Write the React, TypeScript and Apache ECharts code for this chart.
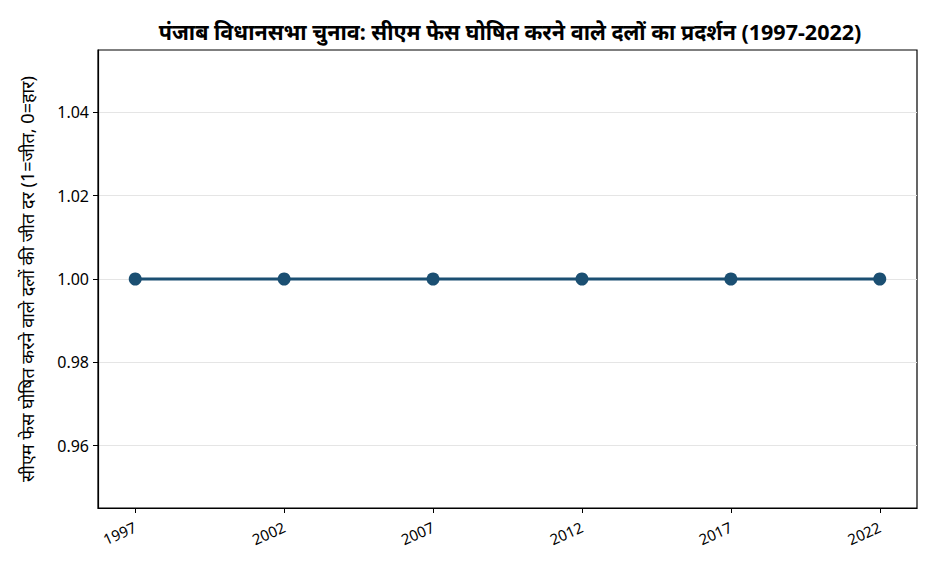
import { useEffect, useRef } from "react";
import * as echarts from "echarts";

const years = [1997, 2002, 2007, 2012, 2017, 2022];
const winRates = [1, 1, 1, 1, 1, 1];
const yTicks = [0.96, 0.98, 1.0, 1.02, 1.04];

const FONT = "'Noto Sans', 'DejaVu Sans', sans-serif";

export default function App() {
  const chartRef = useRef<HTMLDivElement>(null);

  useEffect(() => {
    if (!chartRef.current) return;
    const chart = echarts.init(chartRef.current, undefined, { renderer: "svg" });

    const option = {
      animation: false,
      backgroundColor: "#ffffff",
      title: {
        text: "पंजाब विधानसभा चुनाव: सीएम फेस घोषित करने वाले दलों का प्रदर्शन (1997-2022)",
        left: 497,
        textAlign: "center",
        top: 7,
        textStyle: { fontFamily: FONT, fontSize: 21.5, fontWeight: "bold", color: "#000" },
      },
      grid: {
        left: 90,
        right: 11,
        top: 42,
        bottom: 56,
        show: true,
        borderColor: "#000",
        borderWidth: 1.2,
        backgroundColor: "transparent",
      },
      xAxis: {
        type: "value",
        min: 1995.75,
        max: 2023.25,
        axisLine: { show: true, lineStyle: { color: "#000", width: 1.2 } },
        axisTick: { show: true, customValues: years, length: 5, lineStyle: { color: "#000" } },
        axisLabel: {
          customValues: years,
          rotate: 24,
          margin: 18,
          fontFamily: FONT,
          fontSize: 15,
          color: "#000",
          formatter: (v: number) => String(v),
        },
        splitLine: { show: false },
      },
      yAxis: {
        type: "value",
        min: 0.945,
        max: 1.055,
        name: "सीएम फेस घोषित करने वाले दलों की जीत दर (1=जीत, 0=हार)",
        nameLocation: "middle",
        nameGap: 62,
        nameTextStyle: { fontFamily: FONT, fontSize: 18, color: "#000" },
        axisLine: { show: true, lineStyle: { color: "#000", width: 1.2 } },
        axisTick: { show: true, customValues: yTicks, length: 5, lineStyle: { color: "#000" } },
        axisLabel: {
          customValues: yTicks,
          margin: 9,
          fontFamily: FONT,
          fontSize: 16,
          color: "#000",
          formatter: (v: number) => v.toFixed(2),
        },
        splitLine: { show: true, lineStyle: { color: "#e5e5e5", width: 1 } },
      },
      series: [
        {
          type: "line",
          data: years.map((y, i) => [y, winRates[i]]),
          symbol: "circle",
          symbolSize: 13,
          lineStyle: { color: "#1b4f72", width: 3 },
          itemStyle: { color: "#1b4f72" },
          z: 3,
        },
      ],
    };

    chart.setOption(option);
    return () => chart.dispose();
  }, []);

  return <div ref={chartRef} style={{ width: 920, height: 556 }} />;
}
